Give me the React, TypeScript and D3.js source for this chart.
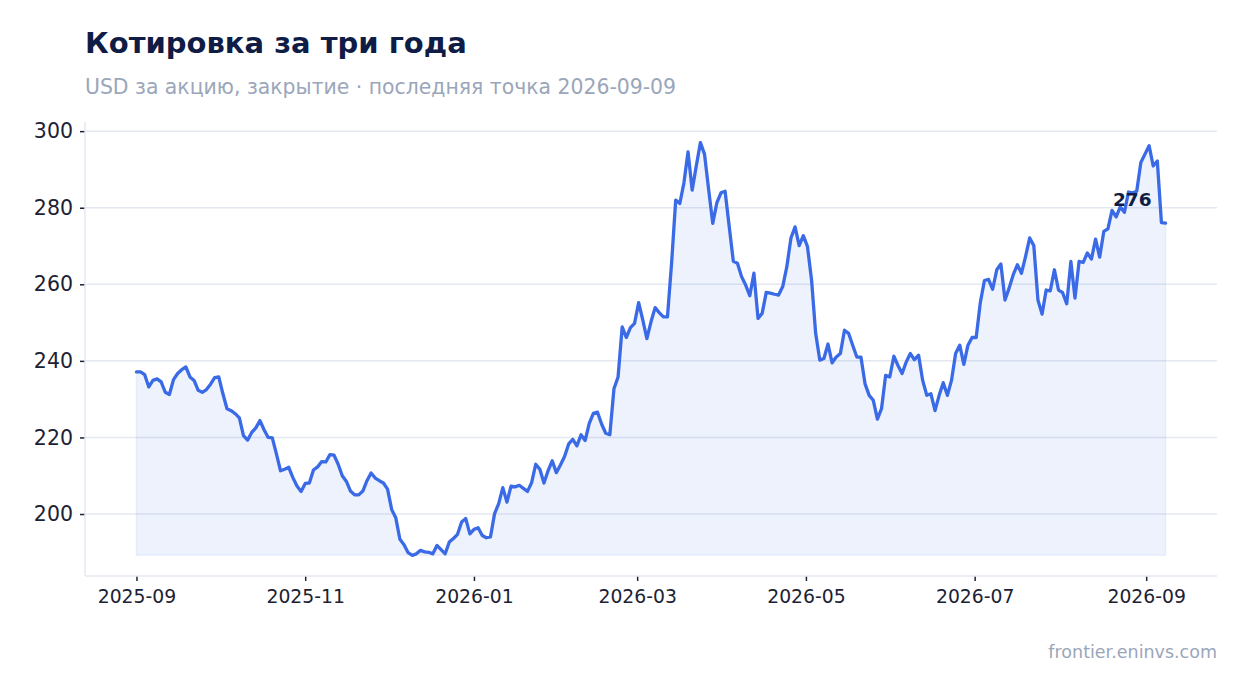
import {useEffect, useRef} from 'react';
import * as d3 from 'd3';

// close prices, evenly spaced from startDate to endDate
const prices: number[] = [
    237.1, 237.1, 236.4, 233.2, 234.9, 235.3, 234.5, 231.8, 231.2, 235.1, 236.7, 237.7, 238.4, 235.8, 234.9, 232.3,
    231.8, 232.5, 233.9, 235.6, 235.8, 231.4, 227.5, 227.0, 226.2, 225.1, 220.5, 219.3, 221.3, 222.5, 224.4, 222.0,
    220.0, 219.9, 215.7, 211.3, 211.7, 212.2, 209.5, 207.3, 205.9, 208.0, 208.1, 211.5, 212.3, 213.7, 213.6, 215.5,
    215.4, 213.0, 210.0, 208.5, 206.0, 205.0, 205.0, 206.0, 208.7, 210.7, 209.4, 208.7, 208.1, 206.5, 201.2, 199.0,
    193.4, 192.0, 189.9, 189.2, 189.6, 190.5, 190.1, 190.0, 189.6, 191.8, 190.7, 189.6, 192.7, 193.6, 194.7, 197.9,
    198.8, 194.8, 196.0, 196.4, 194.4, 193.8, 194.0, 200.1, 202.7, 206.9, 203.1, 207.3, 207.1, 207.5,
    206.7, 205.9, 208.2, 213.0, 211.7, 208.1, 211.3, 213.9, 210.8, 212.8, 215.0, 218.3, 219.5, 217.8, 220.7, 219.2,
    223.7, 226.3, 226.6, 223.5, 221.1, 220.7, 232.7, 235.8, 248.9, 246.1, 248.7, 249.8, 255.2, 250.7, 245.8,
    250.2, 253.9, 252.6, 251.5, 251.5, 265.5, 282.0, 281.1, 286.5, 294.6, 284.6, 290.9, 297.0, 294.0, 284.8, 275.9,
    281.3, 283.9, 284.3, 275.1, 266.0, 265.5, 262.0, 259.8, 257.0, 262.9, 251.1, 252.4, 257.9, 257.7, 257.4, 257.2,
    259.4, 264.6, 272.1, 275.0, 270.1, 272.7, 269.9,
    261.2, 247.2, 240.2, 240.6, 244.4, 239.5, 241.0, 241.9, 248.0, 247.2, 244.1, 241.0, 241.0, 234.0, 231.0, 229.7,
    224.8, 227.5, 236.2, 235.8, 241.2, 238.8, 236.7, 239.7, 241.9, 240.3, 241.5, 234.9, 231.0, 231.4, 227.0, 231.0,
    234.3, 231.0,
    234.9, 241.9, 244.1, 239.1, 244.1, 246.1, 246.1, 255.2, 261.0, 261.3, 258.7, 263.8, 265.3, 255.9, 259.0, 262.5,
    265.1, 262.9, 267.3, 272.1, 270.1, 255.9, 252.2, 258.5, 258.3, 263.8, 258.5, 257.8, 254.9, 266.0, 256.4, 266.0,
    265.7, 268.2, 266.6, 271.8, 267.1, 273.8, 274.5, 279.3, 277.6, 280.2, 278.8, 284.1, 283.9, 284.3, 291.8, 294.0,
    296.2, 290.9, 292.2, 276.1, 276.0,
];
const startDate = new Date(2025, 8, 1);
const endDate = new Date(2026, 8, 8);
const xTickDates = ['2025-09', '2025-11', '2026-01', '2026-03', '2026-05', '2026-07', '2026-09'];
const yTicks = [200, 220, 240, 260, 280, 300];

const title = 'Котировка за три года';
const subtitle = 'USD за акцию, закрытие · последняя точка 2026-09-09';
const credit = 'frontier.eninvs.com';

const App = () => {
    const chartRef = useRef(null);

    useEffect(() => {
        const width = 1247;
        const height = 693;
        const margin = {top: 122, right: 30, bottom: 117, left: 85};
        const font = '"DejaVu Sans", sans-serif';
        const lineColor = '#3a6ae6';
        const gridColor = '#e4e8f0';
        const tickColor = '#1c2233';

        d3.select(chartRef.current).selectAll('svg').remove();

        const svg = d3.select(chartRef.current)
            .append('svg')
            .attr('width', width)
            .attr('height', height)
            .style('display', 'block')
            .style('background', '#ffffff');

        const parse = d3.timeParse('%Y-%m');
        const t0 = startDate.getTime();
        const step = (endDate.getTime() - t0) / (prices.length - 1);
        const data = prices.map((v, i) => ({date: new Date(t0 + i * step), value: v}));

        const span = endDate.getTime() - t0;
        const x = d3.scaleTime()
            .domain([new Date(t0 - span * 0.05), new Date(endDate.getTime() + span * 0.05)])
            .range([margin.left, width - margin.right]);

        const minV = d3.min(prices) as number;
        const maxV = d3.max(prices) as number;
        const pad = (maxV - minV) * 0.05;
        const y = d3.scaleLinear()
            .domain([minV - pad, maxV + pad])
            .range([height - margin.bottom, margin.top]);

        // gridlines
        svg.append('g')
            .selectAll('line')
            .data(yTicks)
            .enter().append('line')
            .attr('x1', margin.left)
            .attr('x2', width - margin.right)
            .attr('y1', d => y(d))
            .attr('y2', d => y(d))
            .attr('stroke', gridColor)
            .attr('stroke-width', 1.5);

        // area down to the lowest close
        const area = d3.area<{date: Date, value: number}>()
            .x(d => x(d.date))
            .y0(y(minV))
            .y1(d => y(d.value));

        svg.append('path')
            .datum(data)
            .attr('d', area)
            .attr('fill', lineColor)
            .attr('fill-opacity', 0.09)
            .attr('stroke', lineColor)
            .attr('stroke-opacity', 0.08)
            .attr('stroke-width', 1.5);

        const line = d3.line<{date: Date, value: number}>()
            .x(d => x(d.date))
            .y(d => y(d.value));

        svg.append('path')
            .datum(data)
            .attr('d', line)
            .attr('fill', 'none')
            .attr('stroke', lineColor)
            .attr('stroke-width', 3.3)
            .attr('stroke-linejoin', 'round')
            .attr('stroke-linecap', 'round');

        // axes
        const yAxis = d3.axisLeft(y)
            .tickValues(yTicks)
            .tickSize(5)
            .tickPadding(7)
            .tickFormat(d3.format('d'));

        const gy = svg.append('g')
            .attr('transform', `translate(${margin.left},0)`)
            .call(yAxis);
        gy.select('.domain').remove();
        gy.selectAll('.tick line').attr('stroke', tickColor).attr('stroke-width', 1.5);
        gy.selectAll('.tick text')
            .attr('fill', tickColor)
            .style('font-family', font)
            .style('font-size', '20.5px');

        const xAxis = d3.axisBottom(x)
            .tickValues(xTickDates.map(s => parse(s) as Date))
            .tickSize(5)
            .tickPadding(9)
            .tickFormat(d3.timeFormat('%Y-%m') as any);

        const gx = svg.append('g')
            .attr('transform', `translate(0,${height - margin.bottom})`)
            .call(xAxis);
        gx.select('.domain').remove();
        gx.selectAll('.tick line').attr('stroke', tickColor).attr('stroke-width', 1.5);
        gx.selectAll('.tick text')
            .attr('fill', tickColor)
            .style('font-family', font)
            .style('font-size', '18.8px');

        // axis spines
        svg.append('line')
            .attr('x1', margin.left).attr('x2', margin.left)
            .attr('y1', margin.top).attr('y2', height - margin.bottom)
            .attr('stroke', gridColor).attr('stroke-width', 1.5);
        svg.append('line')
            .attr('x1', margin.left).attr('x2', width - margin.right)
            .attr('y1', height - margin.bottom).attr('y2', height - margin.bottom)
            .attr('stroke', gridColor).attr('stroke-width', 1.5);

        // last value label
        const last = data[data.length - 1];
        svg.append('text')
            .attr('x', x(last.date) - 14)
            .attr('y', y(last.value) - 17)
            .attr('text-anchor', 'end')
            .attr('fill', '#0f1c45')
            .style('font-family', font)
            .style('font-size', '18.5px')
            .style('font-weight', 'bold')
            .text(Math.round(last.value));

        svg.append('text')
            .attr('x', margin.left)
            .attr('y', 53)
            .attr('fill', '#0f1c45')
            .style('font-family', font)
            .style('font-size', '29px')
            .style('font-weight', 'bold')
            .text(title);

        svg.append('text')
            .attr('x', margin.left)
            .attr('y', 94)
            .attr('fill', '#9aa6ba')
            .style('font-family', font)
            .style('font-size', '20.4px')
            .text(subtitle);

        svg.append('text')
            .attr('x', width - margin.right)
            .attr('y', 658)
            .attr('text-anchor', 'end')
            .attr('fill', '#9aa6ba')
            .style('font-family', font)
            .style('font-size', '17.5px')
            .text(credit);
    }, []);

    return <div style={{position: 'absolute', left: 0, top: 0}} ref={chartRef}></div>;
};

export default App;
